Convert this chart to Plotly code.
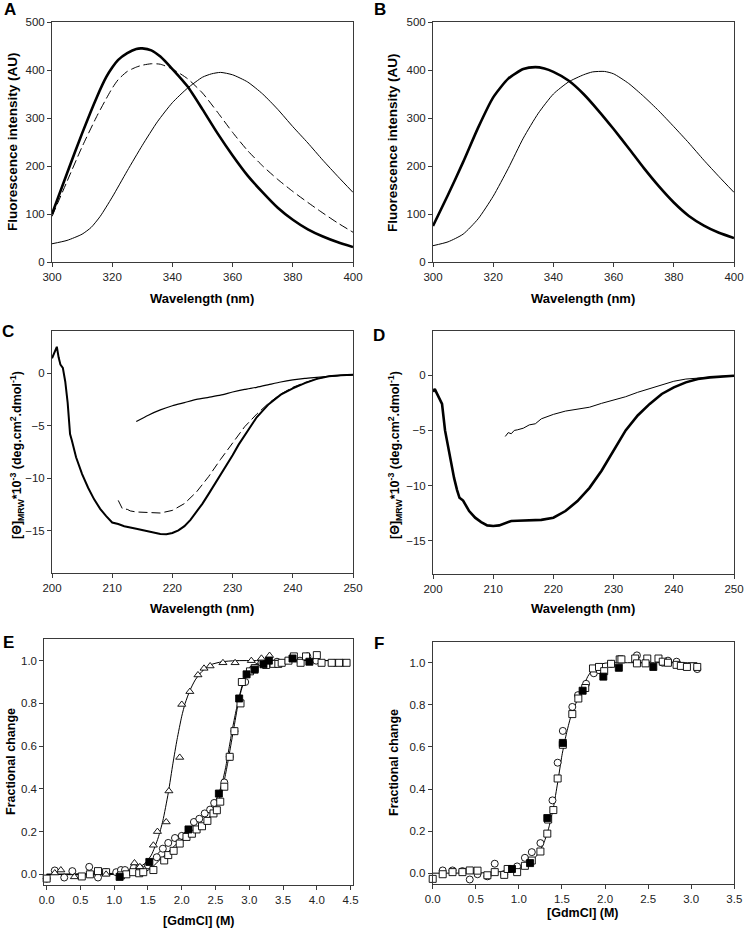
import plotly.graph_objects as go

W, H = 745, 932
FONT = "Arial, 'Liberation Sans', Helvetica, sans-serif"

# ---------------- Panel A ----------------
a_wl_native = [300, 305, 310, 315, 318, 320, 322, 325, 328, 330, 333, 336, 340, 345, 350, 355, 360, 365, 370, 375, 380, 385, 390, 395, 400]
a_native = [100, 185, 268, 345, 385, 405, 421, 435, 444, 445, 441, 428, 402, 366, 318, 268, 222, 180, 145, 113, 88, 68, 53, 41, 31]
a_wl_dash = [300, 305, 310, 315, 318, 320, 322, 325, 328, 330, 333, 336, 340, 345, 350, 355, 360, 365, 370, 375, 380, 385, 390, 395, 400]
a_dash = [95, 168, 240, 305, 340, 362, 380, 397, 406, 410, 413, 412, 402, 382, 352, 312, 270, 232, 200, 172, 147, 124, 102, 81, 62]
a_wl_unf = [300, 305, 310, 313, 316, 320, 325, 330, 335, 340, 345, 350, 353, 356, 360, 365, 370, 375, 380, 385, 390, 395, 400]
a_unf = [38, 45, 58, 72, 95, 135, 190, 243, 292, 332, 362, 385, 392, 395, 390, 375, 350, 318, 282, 248, 212, 178, 145]

# ---------------- Panel B ----------------
b_wl_native = [300, 305, 310, 315, 320, 325, 330, 334, 337, 340, 345, 350, 355, 360, 365, 370, 375, 380, 385, 390, 395, 400]
b_native = [75, 140, 208, 280, 343, 382, 402, 406, 403, 396, 378, 350, 315, 277, 237, 196, 158, 124, 96, 76, 61, 50]
b_wl_unf = [300, 305, 310, 315, 320, 325, 330, 335, 340, 345, 350, 353, 357, 360, 365, 370, 375, 380, 385, 390, 395, 400]
b_unf = [34, 42, 58, 90, 137, 195, 258, 310, 350, 375, 390, 396, 397, 392, 372, 345, 315, 282, 248, 212, 178, 145]

# ---------------- Panel C ----------------
c_wl_native = [200, 200.4, 200.8, 201.1, 201.4, 201.8, 202.2, 202.6, 203.0, 203.3, 204, 205, 206, 207, 208, 209, 210, 211, 212, 214, 216, 218, 219, 220, 221, 222, 223, 224, 225, 226, 227, 228, 229, 230, 231, 232, 233, 234, 236, 238, 240, 242, 244, 246, 248, 250]
c_native = [1.4, 2.0, 2.5, 1.5, 0.8, 0.5, -0.8, -2.8, -5.8, -6.4, -8.0, -9.6, -10.9, -12.0, -12.9, -13.6, -14.2, -14.35, -14.55, -14.8, -15.05, -15.3, -15.32, -15.2, -14.95, -14.55, -13.95, -13.2, -12.4, -11.5, -10.6, -9.7, -8.8, -7.8, -6.8, -5.9, -5.0, -4.2, -2.95, -2.05, -1.45, -0.95, -0.55, -0.3, -0.2, -0.15]
c_wl_dash = [211, 211.7, 212.5, 213, 214, 216, 218, 220, 222, 224, 226, 228, 230, 232, 234, 236, 238, 240, 242, 244, 246, 248, 250]
c_dash = [-12.1, -12.9, -12.95, -13.1, -13.2, -13.28, -13.3, -13.05, -12.4, -11.3, -9.85, -8.2, -6.6, -5.1, -3.9, -2.85, -2.0, -1.35, -0.9, -0.55, -0.3, -0.2, -0.15]
c_wl_unf = [214, 216, 218, 220, 222, 224, 226, 228, 230, 232, 234, 236, 238, 240, 242, 244, 246, 248, 250]
c_unf = [-4.6, -4.0, -3.5, -3.1, -2.8, -2.5, -2.3, -2.1, -1.8, -1.55, -1.35, -1.1, -0.85, -0.65, -0.5, -0.4, -0.3, -0.22, -0.18]

# ---------------- Panel D ----------------
d_wl_native = [200, 200.3, 200.6, 201, 201.5, 202, 202.5, 203, 203.5, 204, 204.4, 205, 206, 207, 208, 209, 210, 211, 212, 213, 214, 216, 218, 220, 222, 224, 226, 228, 230, 232, 234, 236, 238, 240, 242, 244, 246, 248, 250]
d_native = [-1.5, -1.25, -1.6, -2.0, -2.6, -5.0, -6.5, -8.0, -9.3, -10.4, -11.1, -11.35, -12.3, -12.9, -13.3, -13.6, -13.65, -13.6, -13.4, -13.2, -13.18, -13.15, -13.1, -12.9, -12.3, -11.4, -10.2, -8.65, -6.85, -5.0, -3.65, -2.6, -1.7, -1.1, -0.65, -0.35, -0.2, -0.1, -0.05]
d_wl_unf = [212, 212.5, 213, 213.5, 214, 215, 216, 217, 218, 220, 222, 224, 226, 228, 230, 232, 234, 236, 238, 240, 242, 244, 246, 248, 250]
d_unf = [-5.55, -5.2, -5.3, -5.0, -4.95, -4.8, -4.5, -4.4, -3.95, -3.55, -3.25, -3.05, -2.9, -2.55, -2.25, -1.95, -1.55, -1.2, -0.85, -0.55, -0.35, -0.25, -0.15, -0.1, -0.06]

# ---------------- Panel E ----------------
e_circ_x = [0.0, 0.12, 0.26, 0.38, 0.63, 0.76, 0.88, 1.03, 1.1, 1.16, 1.29, 1.37, 1.50, 1.63, 1.72, 1.80, 1.90, 2.0, 2.18, 2.26, 2.34, 2.42, 2.48, 2.63, 2.71, 2.78, 2.94, 3.05, 3.18, 3.41, 3.75, 3.86, 3.99, 4.27, 4.38]
e_circ_y = [-0.02, 0.018, -0.015, 0.015, 0.035, -0.015, 0.01, 0.01, 0.02, 0.02, 0.03, 0.03, 0.042, 0.08, 0.12, 0.147, 0.17, 0.18, 0.245, 0.26, 0.285, 0.303, 0.334, 0.43, 0.55, 0.67, 0.90, 0.96, 0.99, 0.995, 1.0, 1.02, 1.0, 0.99, 0.99]
e_sq_x = [0.0, 0.52, 0.64, 0.76, 0.88, 1.1, 1.18, 1.28, 1.37, 1.43, 1.58, 1.74, 1.80, 1.88, 1.97, 2.07, 2.15, 2.22, 2.30, 2.38, 2.47, 2.52, 2.57, 2.63, 2.71, 2.78, 2.87, 2.89, 3.01, 3.08, 3.25, 3.36, 3.43, 3.48, 3.58, 3.66, 3.76, 3.84, 4.0, 4.07, 4.22, 4.33, 4.44]
e_sq_y = [-0.02, -0.01, 0.0, 0.015, 0.01, -0.005, 0.0, 0.01, 0.005, 0.01, 0.02, 0.065, 0.09, 0.11, 0.144, 0.175, 0.19, 0.21, 0.225, 0.25, 0.285, 0.30, 0.34, 0.41, 0.55, 0.67, 0.80, 0.90, 0.95, 0.965, 0.98, 0.985, 0.985, 0.99, 1.0, 1.02, 0.99, 1.02, 1.026, 0.99, 0.99, 0.99, 0.99]
e_fill_x = [1.08, 1.52, 2.10, 2.55, 2.85, 2.96, 3.08, 3.21, 3.29, 3.64, 3.89]
e_fill_y = [-0.012, 0.058, 0.21, 0.378, 0.823, 0.936, 0.958, 0.983, 1.0, 1.01, 0.995]
e_tri_x = [0.12, 0.21, 0.41, 0.88, 1.30, 1.38, 1.58, 1.64, 1.77, 1.81, 1.97, 2.0, 2.12, 2.24, 2.33, 2.42, 2.61, 2.79, 3.03, 3.18, 3.30]
e_tri_y = [0.006, 0.02, -0.012, 0.0, 0.053, 0.035, 0.136, 0.20, 0.245, 0.39, 0.547, 0.795, 0.855, 0.933, 0.964, 0.975, 0.99, 0.99, 1.0, 1.011, 1.024]
e_trifit_x = [0.0, 1.0, 1.3, 1.45, 1.55, 1.65, 1.72, 1.8, 1.87, 1.93, 2.0, 2.05, 2.12, 2.2, 2.3, 2.42, 2.6, 2.8, 3.3]
e_trifit_y = [0.0, 0.0, 0.02, 0.05, 0.09, 0.17, 0.25, 0.38, 0.52, 0.63, 0.74, 0.80, 0.86, 0.91, 0.95, 0.98, 0.995, 1.0, 1.0]
e_circfit_x = [0.0, 1.0, 1.3, 1.5, 1.6, 1.7, 1.8, 1.9, 2.0, 2.1, 2.2, 2.3, 2.4, 2.5, 2.55, 2.6, 2.65, 2.7, 2.75, 2.8, 2.85, 2.9, 2.95, 3.0, 3.1, 3.2, 3.5, 4.4]
e_circfit_y = [0.0, 0.005, 0.02, 0.045, 0.08, 0.115, 0.145, 0.165, 0.185, 0.21, 0.24, 0.27, 0.30, 0.345, 0.38, 0.43, 0.50, 0.59, 0.68, 0.76, 0.83, 0.89, 0.93, 0.96, 0.985, 0.995, 1.0, 1.0]
e_sqfit_x = [0.0, 1.3, 1.45, 1.55, 1.65, 1.75, 1.85, 1.95, 2.05, 2.15, 2.25, 2.35, 2.45, 2.52, 2.58, 2.63, 2.68, 2.73, 2.78, 2.83, 2.88, 2.93, 3.0, 3.1, 3.2, 3.5, 4.4]
e_sqfit_y = [0.0, 0.005, 0.01, 0.03, 0.06, 0.09, 0.12, 0.15, 0.175, 0.195, 0.215, 0.245, 0.285, 0.325, 0.375, 0.44, 0.52, 0.61, 0.70, 0.79, 0.86, 0.91, 0.95, 0.98, 0.99, 1.0, 1.0]

# ---------------- Panel F ----------------
f_circ_x = [0.116, 0.23, 0.345, 0.43, 0.52, 0.635, 0.72, 0.83, 0.98, 1.07, 1.15, 1.25, 1.39, 1.45, 1.51, 1.62, 1.686, 1.78, 1.87, 1.93, 2.07, 2.37, 2.47, 2.67, 2.73, 2.83, 3.07]
f_circ_y = [0.013, 0.013, 0.01, -0.03, -0.005, -0.015, 0.045, -0.005, 0.032, 0.073, 0.1, 0.143, 0.346, 0.525, 0.676, 0.79, 0.846, 0.90, 0.95, 0.965, 0.995, 1.035, 1.0, 1.0, 1.01, 1.005, 0.97]
f_sq_x = [0.0, 0.116, 0.23, 0.345, 0.43, 0.52, 0.635, 0.72, 0.83, 0.87, 0.98, 1.07, 1.15, 1.25, 1.33, 1.34, 1.40, 1.45, 1.51, 1.62, 1.69, 1.77, 1.86, 1.93, 1.99, 2.07, 2.17, 2.19, 2.35, 2.37, 2.49, 2.47, 2.62, 2.67, 2.73, 2.83, 2.88, 2.95, 3.07]
f_sq_y = [-0.027, -0.005, 0.005, 0.005, 0.013, 0.012, -0.01, 0.005, -0.008, 0.02, 0.005, 0.035, 0.06, 0.103, 0.188, 0.255, 0.30, 0.45, 0.61, 0.756, 0.83, 0.88, 0.973, 0.98, 0.96, 0.995, 1.016, 1.016, 1.02, 0.997, 1.02, 0.997, 1.02, 1.005, 1.0, 0.99, 0.985, 0.98, 0.98]
f_fill_x = [0.92, 1.13, 1.33, 1.51, 1.74, 1.98, 2.16, 2.56]
f_fill_y = [0.02, 0.048, 0.262, 0.619, 0.867, 0.934, 0.976, 0.98]
f_fit_x = [0.0, 0.6, 0.8, 0.9, 1.0, 1.1, 1.15, 1.2, 1.25, 1.3, 1.35, 1.4, 1.45, 1.5, 1.55, 1.6, 1.65, 1.7, 1.75, 1.8, 1.85, 1.9, 2.0, 2.2, 2.5, 3.07]
f_fit_y = [0.0, 0.002, 0.008, 0.015, 0.025, 0.045, 0.06, 0.08, 0.11, 0.155, 0.22, 0.31, 0.43, 0.56, 0.66, 0.74, 0.795, 0.845, 0.89, 0.935, 0.965, 0.985, 0.998, 1.0, 1.0, 1.0]

fig = go.Figure()


def line(x, y, ax, width=1.0, dash="solid", shape="spline"):
    ln = dict(color="black", width=width, dash=dash, shape=shape)
    if shape == "spline":
        ln["smoothing"] = 0.6
    fig.add_trace(go.Scatter(
        x=x, y=y, mode="lines", xaxis="x" + ax, yaxis="y" + ax,
        line=ln, hoverinfo="skip", showlegend=False))


def pts(x, y, ax, symbol, filled=False, size=7):
    fig.add_trace(go.Scatter(
        x=x, y=y, mode="markers", xaxis="x" + ax, yaxis="y" + ax, cliponaxis=False,
        marker=dict(symbol=symbol, size=size, color="black" if filled else "white",
                    line=dict(color="black", width=0.9)),
        hoverinfo="skip", showlegend=False))


# A
line(a_wl_native, a_native, "", width=2.6)
line(a_wl_dash, a_dash, "", width=1.0, dash="9px,4px")
line(a_wl_unf, a_unf, "", width=1.0)
# B
line(b_wl_native, b_native, "2", width=2.6)
line(b_wl_unf, b_unf, "2", width=1.0)
# C
line(c_wl_native, c_native, "3", width=2.0, shape="linear")
line(c_wl_dash, c_dash, "3", width=1.0, dash="9px,4px", shape="linear")
line(c_wl_unf, c_unf, "3", width=1.2)
# D
line(d_wl_native, d_native, "4", width=2.6, shape="linear")
line(d_wl_unf, d_unf, "4", width=1.0, shape="linear")
# E
line(e_trifit_x, e_trifit_y, "5", width=1.0)
line(e_circfit_x, e_circfit_y, "5", width=1.0)
line(e_sqfit_x, e_sqfit_y, "5", width=1.0)
pts(e_circ_x, e_circ_y, "5", "circle")
pts(e_sq_x, e_sq_y, "5", "square")
pts(e_tri_x, e_tri_y, "5", "triangle-up")
pts(e_fill_x, e_fill_y, "5", "square", filled=True)
# F
line(f_fit_x, f_fit_y, "6", width=1.0)
pts(f_circ_x, f_circ_y, "6", "circle")
pts(f_sq_x, f_sq_y, "6", "square")
pts(f_fill_x, f_fill_y, "6", "square", filled=True)


def px_dom(a, b):
    return [a / W, b / W]


def py_dom(top, bottom):
    return [1 - bottom / H, 1 - top / H]


def axis(domain, rng, dtick, anchor, fmt=None):
    d = dict(domain=domain, range=rng, dtick=dtick, tick0=0, showline=True, mirror=True,
             linecolor="#3a3a3a", linewidth=1, ticks="outside", ticklen=4, tickwidth=1,
             tickcolor="#3a3a3a", showgrid=False, zeroline=False, anchor=anchor,
             automargin=False, tickfont=dict(size=11.5, color="#222", family=FONT))
    if fmt:
        d["tickformat"] = fmt
    return d


layout = dict(
    width=W, height=H, margin=dict(l=0, r=0, t=0, b=0, pad=0), autosize=False,
    paper_bgcolor="white", plot_bgcolor="white", showlegend=False,
    font=dict(family=FONT, color="black"),
    xaxis=axis(px_dom(52, 353), [300, 400], 20, "y"),
    yaxis=axis(py_dom(22, 262), [0, 500], 100, "x"),
    xaxis2=axis(px_dom(433, 734), [300, 400], 20, "y2"),
    yaxis2=axis(py_dom(22, 262), [0, 500], 100, "x2"),
    xaxis3=axis(px_dom(52, 353), [200, 250], 10, "y3"),
    yaxis3=axis(py_dom(331, 573), [-19, 4], 5, "x3"),
    xaxis4=axis(px_dom(433, 734), [200, 250], 10, "y4"),
    yaxis4=axis(py_dom(331, 574), [-18, 4], 5, "x4"),
    xaxis5=axis(px_dom(44.3, 353.3), [-0.035, 4.54], 0.5, "y5", ".1f"),
    yaxis5=axis(py_dom(639.3, 885), [-0.05, 1.1], 0.2, "x5", ".1f"),
    xaxis6=axis(px_dom(432.7, 734.3), [0, 3.5], 0.5, "y6", ".1f"),
    yaxis6=axis(py_dom(641.7, 883.7), [-0.05, 1.1], 0.2, "x6", ".1f"),
)

ann = []


def text(t, x, y, size=12, angle=0, bold=True):
    ann.append(dict(text=("<b>%s</b>" % t) if bold else t, x=x / W, y=1 - y / H,
                    xref="paper", yref="paper", xanchor="center", yanchor="middle",
                    showarrow=False, textangle=angle,
                    font=dict(size=size, family=FONT, color="black")))


# panel letters
text("A", 10, 10, size=17)
text("B", 380, 10, size=17)
text("C", 8, 331, size=17)
text("D", 379, 335, size=17)
text("E", 8, 642, size=17)
text("F", 379, 643, size=17)

# x titles
text("Wavelength (nm)", 202, 298, size=13)
text("Wavelength (nm)", 583, 298, size=13)
text("Wavelength (nm)", 202, 608, size=13)
text("Wavelength (nm)", 583, 608, size=13)
text("[GdmCl] (M)", 199, 921, size=12.5)
text("[GdmCl] (M)", 583, 913, size=12.5)

# y titles
text("Fluorescence intensity (AU)", 13, 142, size=13.5, angle=-90)
text("Fluorescence intensity (AU)", 393, 142, size=13.5, angle=-90)
cd_title = "[Θ]<sub>MRW</sub>*10<sup>-3</sup> (deg.cm<sup>2</sup>.dmol<sup>-1</sup>)"
text(cd_title, 17, 455, size=12.5, angle=-90)
text(cd_title, 395, 455, size=12.5, angle=-90)
text("Fractional change", 11, 762, size=12.5, angle=-90)
text("Fractional change", 394, 763, size=12.5, angle=-90)

layout["annotations"] = ann
fig.update_layout(**layout)
fig.write_html("out.html", config={"displayModeBar": False},
               post_script="document.body.style.margin='0px';document.body.style.padding='0px';")
